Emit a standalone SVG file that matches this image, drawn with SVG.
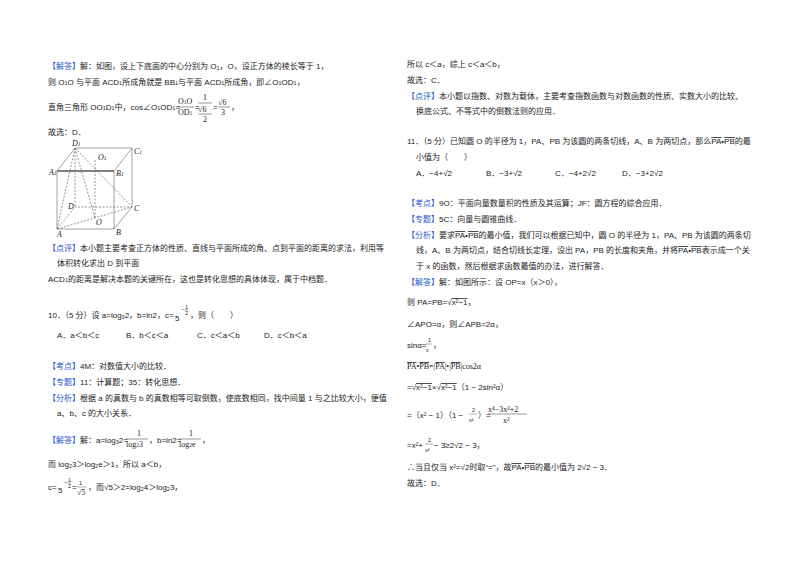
<svg xmlns="http://www.w3.org/2000/svg" width="800" height="565" viewBox="0 0 800 565">
<style>
text{font-family:"Liberation Sans","Noto Sans CJK SC",sans-serif;font-size:8px;fill:#222}
.b{fill:#2255cc}
.s{font-family:"Liberation Serif","Noto Sans CJK SC",serif}
.sm{font-size:5.5px}
.e{stroke:#888;stroke-width:0.8;fill:none}
.d{stroke:#666;stroke-width:0.7;stroke-dasharray:2,1.5;fill:none}
</style>
<rect width="800" height="565" fill="#fff"/>
<g id="left">
<text x="48" y="69"><tspan class="b">【解答】</tspan>解：如图，设上下底面的中心分别为 O<tspan class="sm" dy="1">1</tspan><tspan dy="-1">，O，设正方体的棱长等于 1，</tspan></text>
<text x="48" y="85">则 O<tspan class="sm">1</tspan>O 与平面 ACD<tspan class="sm">1</tspan>所成角就是 BB<tspan class="sm">1</tspan>与平面 ACD<tspan class="sm">1</tspan>所成角，即∠O<tspan class="sm">1</tspan>OD<tspan class="sm">1</tspan>，</text>
<text x="48" y="110">直角三角形 OO<tspan class="sm">1</tspan>D<tspan class="sm">1</tspan>中，cos∠O<tspan class="sm">1</tspan>OD<tspan class="sm">1</tspan>=</text>
<text x="178" y="104" class="s">O<tspan class="sm">1</tspan>O</text>
<line x1="177" y1="107" x2="194" y2="107" stroke="#333" stroke-width="0.5"/>
<text x="178" y="115" class="s">OD<tspan class="sm">1</tspan></text>
<text x="195" y="110">=</text>
<text x="203" y="100" class="s">1</text>
<line x1="198" y1="103" x2="212" y2="103" stroke="#333" stroke-width="0.5"/>
<text x="198" y="112" class="s">√6</text>
<line x1="198" y1="114" x2="212" y2="114" stroke="#333" stroke-width="0.5"/>
<text x="203" y="122" class="s">2</text>
<text x="213" y="110">=</text>
<text x="218" y="105" class="s">√6</text>
<line x1="218" y1="107" x2="230" y2="107" stroke="#333" stroke-width="0.5"/>
<text x="221" y="115" class="s">3</text>
<text x="231" y="110">，</text>
<text x="48" y="135">故选：D．</text>
</g>
<g id="cube">
<polygon points="57,171 114,171 114,229 57,229" class="e" stroke="#555"/>
<line x1="57" y1="171" x2="114" y2="171" stroke="#333" stroke-width="1"/>
<polyline points="57,171 75,148 132,148 114,171" class="e"/>
<polyline points="132,148 132,207 114,229" class="e"/>
<polyline points="57,229 75,207 132,207" class="d"/>
<line x1="75" y1="148" x2="75" y2="207" class="d"/>
<line x1="75" y1="148" x2="57" y2="229" class="d"/>
<line x1="75" y1="148" x2="95" y2="218" class="d"/>
<line x1="75" y1="148" x2="132" y2="207" class="d"/>
<line x1="57" y1="229" x2="132" y2="207" class="d"/>
<line x1="95" y1="160" x2="95" y2="218" class="d"/>
<text x="72" y="146" class="s" font-style="italic">D<tspan class="sm">1</tspan></text>
<text x="134" y="154" class="s" font-style="italic">C<tspan class="sm">1</tspan></text>
<text x="98" y="160" class="s" font-style="italic">O<tspan class="sm">1</tspan></text>
<text x="49" y="175" class="s" font-style="italic">A<tspan class="sm">1</tspan></text>
<text x="116" y="176" class="s" font-style="italic">B<tspan class="sm">1</tspan></text>
<text x="68" y="209" class="s" font-style="italic">D</text>
<text x="134" y="211" class="s" font-style="italic">C</text>
<text x="96" y="225" class="s" font-style="italic">O</text>
<text x="57" y="237" class="s" font-style="italic">A</text>
<text x="116" y="235" class="s" font-style="italic">B</text>
</g>
<g id="left2">
<text x="48" y="251"><tspan class="b">【点评】</tspan>本小题主要考查正方体的性质、直线与平面所成的角、点到平面的距离的求法，利用等</text>
<text x="57" y="266">体积转化求出 D 到平面</text>
<text x="48" y="282">ACD<tspan class="sm">1</tspan>的距离是解决本题的关键所在，这也是转化思想的具体体现，属于中档题．</text>
<text x="48" y="318">10．（5 分）设 a=log<tspan class="sm" dy="1">3</tspan><tspan dy="-1">2，b=ln2，c=</tspan></text>
<text x="175" y="321">5</text>
<text x="181" y="311" class="sm">−</text>
<text x="185" y="309" class="sm">1</text>
<line x1="184" y1="310" x2="188" y2="310" stroke="#333" stroke-width="0.4"/>
<text x="185" y="315" class="sm">2</text>
<text x="190" y="318">，则（　　）</text>
<text x="57" y="338">A．a＜b＜c</text>
<text x="126" y="338">B．b＜c＜a</text>
<text x="197" y="338">C．c＜a＜b</text>
<text x="264" y="338">D．c＜b＜a</text>
<text x="48" y="369"><tspan class="b">【考点】</tspan>4M：对数值大小的比较．</text>
<text x="48" y="385"><tspan class="b">【专题】</tspan>11：计算题；35：转化思想．</text>
<text x="48" y="401"><tspan class="b">【分析】</tspan>根据 a 的真数与 b 的真数相等可取倒数，使底数相同，找中间量 1 与之比较大小，便值</text>
<text x="57" y="416">a、b、c 的大小关系．</text>
<text x="48" y="443"><tspan class="b">【解答】</tspan>解：a=log<tspan class="sm" dy="1">3</tspan><tspan dy="-1">2=</tspan></text>
<text x="137" y="436" class="s">1</text>
<line x1="126" y1="439" x2="148" y2="439" stroke="#333" stroke-width="0.5"/>
<text x="126" y="447" class="s">log<tspan class="sm">2</tspan>3</text>
<text x="149" y="443">，b=ln2=</text>
<text x="189" y="436" class="s">1</text>
<line x1="179" y1="439" x2="201" y2="439" stroke="#333" stroke-width="0.5"/>
<text x="179" y="447" class="s">log<tspan class="sm">2</tspan>e</text>
<text x="202" y="443">，</text>
<text x="48" y="467">而 log<tspan class="sm" dy="1">2</tspan><tspan dy="-1">3＞log</tspan><tspan class="sm" dy="1">2</tspan><tspan dy="-1">e＞1，所以 a＜b，</tspan></text>
<text x="48" y="490">c=</text>
<text x="58" y="493">5</text>
<text x="64" y="484" class="sm">−</text>
<text x="68" y="482" class="sm">1</text>
<line x1="67" y1="483" x2="71" y2="483" stroke="#333" stroke-width="0.4"/>
<text x="68" y="488" class="sm">2</text>
<text x="72" y="490">=</text>
<text x="79" y="485" class="sm">1</text>
<line x1="77" y1="487" x2="87" y2="487" stroke="#333" stroke-width="0.4"/>
<text x="77" y="495" class="s">√5</text>
<text x="88" y="490">，而√5＞2=log<tspan class="sm" dy="1">2</tspan><tspan dy="-1">4＞log</tspan><tspan class="sm" dy="1">2</tspan><tspan dy="-1">3，</tspan></text>
</g>
<g id="right">
<text x="407" y="67">所以 c＜a，综上 c＜a＜b，</text>
<text x="407" y="83">故选：C．</text>
<text x="407" y="99"><tspan class="b">【点评】</tspan>本小题以指数、对数为载体，主要考查指数函数与对数函数的性质、实数大小的比较、</text>
<text x="416" y="114">换底公式、不等式中的倒数法则的应用．</text>
<text x="407" y="144">11．（5 分）已知圆 O 的半径为 1，PA、PB 为该圆的两条切线，A、B 为两切点，那么<tspan text-decoration="overline">PA</tspan>•<tspan text-decoration="overline">PB</tspan>的最</text>
<text x="416" y="160">小值为（　　）</text>
<text x="416" y="176">A．−4+√2</text>
<text x="486" y="176">B．−3+√2</text>
<text x="555" y="176">C．−4+2√2</text>
<text x="622" y="176">D．−3+2√2</text>
<text x="407" y="206"><tspan class="b">【考点】</tspan>9O：平面向量数量积的性质及其运算；JF：圆方程的综合应用．</text>
<text x="407" y="222"><tspan class="b">【专题】</tspan>5C：向量与圆锥曲线．</text>
<text x="407" y="238"><tspan class="b">【分析】</tspan>要求<tspan text-decoration="overline">PA</tspan>•<tspan text-decoration="overline">PB</tspan>的最小值，我们可以根据已知中，圆 O 的半径为 1，PA、PB 为该圆的两条切</text>
<text x="416" y="253">线，A、B 为两切点，结合切线长定理，设出 PA，PB 的长度和夹角，并将<tspan text-decoration="overline">PA</tspan>•<tspan text-decoration="overline">PB</tspan>表示成一个关</text>
<text x="416" y="269">于 x 的函数，然后根据求函数最值的办法，进行解答．</text>
<text x="407" y="285"><tspan class="b">【解答】</tspan>解：如图所示：设 OP=x（x＞0），</text>
<text x="407" y="305">则 PA=PB=√<tspan text-decoration="overline">x²−1</tspan>，</text>
<text x="407" y="327">∠APO=α，则∠APB=2α，</text>
<text x="407" y="348">sinα=</text>
<text x="428" y="342" class="sm">1</text>
<line x1="426" y1="344" x2="432" y2="344" stroke="#333" stroke-width="0.4"/>
<text x="426" y="352" class="sm">x</text>
<text x="433" y="348">，</text>
<text x="407" y="369" class="s"><tspan text-decoration="overline">PA</tspan>•<tspan text-decoration="overline">PB</tspan>=|<tspan text-decoration="overline">PA</tspan>|•|<tspan text-decoration="overline">PB</tspan>|cos2α</text>
<text x="407" y="390">=√<tspan text-decoration="overline">x²−1</tspan>×√<tspan text-decoration="overline">x²−1</tspan>（1 − 2sin²α）</text>
<text x="407" y="418">=（x² − 1）（1 −</text>
<text x="472" y="412" class="sm">2</text>
<line x1="469" y1="414" x2="477" y2="414" stroke="#333" stroke-width="0.4"/>
<text x="469" y="422" class="sm">x²</text>
<text x="478" y="418">）=</text>
<text x="488" y="412" class="s">x⁴−3x²+2</text>
<line x1="488" y1="414" x2="527" y2="414" stroke="#333" stroke-width="0.5"/>
<text x="503" y="423" class="s">x²</text>
<text x="407" y="448">=x²+</text>
<text x="428" y="442" class="sm">2</text>
<line x1="425" y1="444" x2="433" y2="444" stroke="#333" stroke-width="0.4"/>
<text x="425" y="452" class="sm">x²</text>
<text x="434" y="448"> − 3≥2√2 − 3，</text>
<text x="407" y="470">∴当且仅当 x²=√2时取“=”，故<tspan text-decoration="overline">PA</tspan>•<tspan text-decoration="overline">PB</tspan>的最小值为 2√2 − 3．</text>
<text x="407" y="486">故选：D．</text>
</g>
</svg>
